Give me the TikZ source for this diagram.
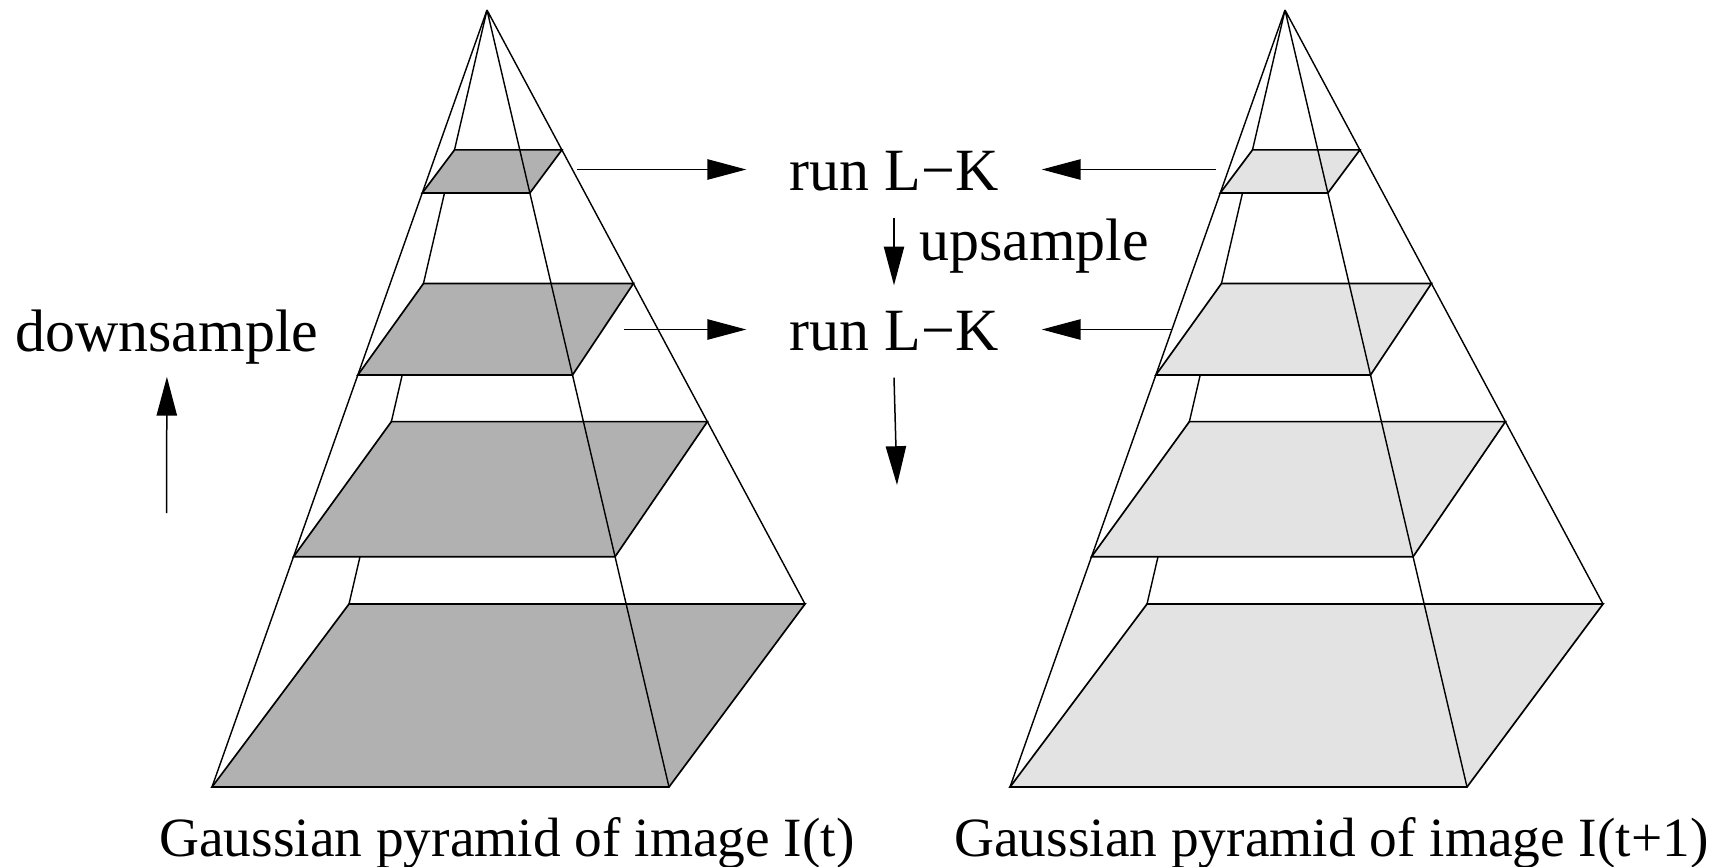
\documentclass[tikz,border=0pt]{standalone}
\usepackage{fontspec}
\setmainfont{Liberation Serif}
\usetikzlibrary{calc,arrows.meta}
\definecolor{layerdark}{RGB}{177,177,177}
\definecolor{layerlight}{RGB}{227,227,227}
\newcommand{\gpyr}[3]{%
 \begin{scope}[shift={(#2,0)}]
  \coordinate (#1A) at (487,10);
  \coordinate (#1BL) at (349,604);
  \coordinate (#1BR) at (805,604);
  \coordinate (#1FL) at (212,787);
  \coordinate (#1FR) at (669,787);
  \draw[edge] (#1A) -- (#1BL);
  \foreach \tb/\tf in {0.2355/0.2355, 0.4605/0.4698, 0.693/0.7036, 1/1} {
    \filldraw[layer, fill=#3] ($(#1A)!\tb!(#1BL)$) -- ($(#1A)!\tb!(#1BR)$) -- ($(#1A)!\tf!(#1FR)$) -- ($(#1A)!\tf!(#1FL)$) -- cycle;
  }
  \draw[edge] (#1A) -- (#1BR) (#1A) -- (#1FL) (#1A) -- (#1FR);
 \end{scope}}
\begin{document}
\begin{tikzpicture}[x=0.567pt, y=-0.567pt,
  edge/.style={line width=0.8pt, black},
  layer/.style={line width=0.95pt, draw=black, line join=miter},
  lbl/.style={font=\fontsize{34}{40}\selectfont, inner sep=0pt},
  capt/.style={font=\fontsize{31.4}{36}\selectfont, inner sep=0pt, anchor=base west},
  arr/.style={-{Triangle[length=22pt,width=11.5pt]}, line width=0.85pt}]
\useasboundingbox (0,0) rectangle (1729,866);
\gpyr{L}{0}{layerdark}
\gpyr{R}{798}{layerlight}
% labels
\node[lbl, inner xsep=24.4pt, inner ysep=14.7pt] (run1) at (894,171.5) {run L−K};
\node[lbl, inner xsep=24.4pt, inner ysep=14.7pt] (run2) at (894,331.5) {run L−K};
\node[lbl, anchor=base west] (up) at (919,260) {upsample};
\node[lbl, inner xsep=0pt, inner ysep=6.8pt, anchor=base west] (down) at (15,351.7) {downsample};
\node[capt] (cap1) at (159,856) {Gaussian pyramid of image I(t)};
\node[capt] (cap2) at (954,856) {Gaussian pyramid of image I(t+1)};
% connector ends
\coordinate (l1) at (577,169.5);
\coordinate (l2) at (624,329.5);
\coordinate (r1) at (1216,169.5);
\coordinate (r2) at (1171,329.5);
\coordinate (dn) at (897,485);
\coordinate (ub) at (166.5,513);
\draw[arr] (l1) -- (l1 -| run1.west);
\draw[arr] (l2) -- (l2 -| run2.west);
\draw[arr] (r1) -- (r1 -| run1.east);
\draw[arr] (r2) -- (r2 -| run2.east);
\draw[arr] (run1.south) -- (run2.north);
\draw[arr] (run2.south) -- (dn);
\draw[arr] (ub) -- (down.south);
\end{tikzpicture}
\end{document}
